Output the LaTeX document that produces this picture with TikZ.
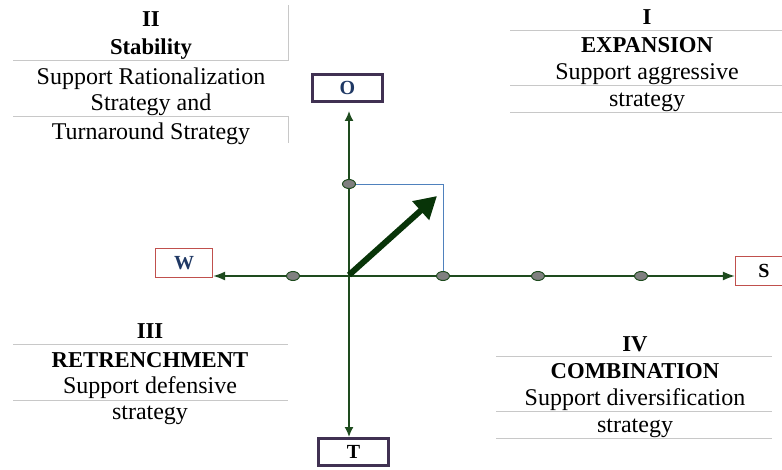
\documentclass[tikz,border=0pt]{standalone}
\usepackage{fontspec}
\setmainfont{Liberation Serif}
\usetikzlibrary{shapes.geometric, arrows.meta, positioning, calc}
\definecolor{axisgreen}{RGB}{30,75,30}
\definecolor{darkgreen}{RGB}{8,52,8}
\definecolor{boxpurple}{RGB}{64,49,82}
\definecolor{boxred}{RGB}{192,80,77}
\definecolor{navy}{RGB}{31,56,100}
\definecolor{rulegray}{RGB}{200,200,200}
\definecolor{lineblue}{RGB}{79,129,189}

\begin{document}
\begin{tikzpicture}[x=1pt, y=-1pt, every node/.style={font=\fontsize{24}{28}\selectfont},
  axisbox/.style={draw=boxpurple, line width=3pt, minimum width=70pt, minimum height=27pt, font=\fontsize{20}{22}\selectfont\bfseries},
  sidebox/.style={draw=boxred, line width=1.2pt, minimum width=57pt, minimum height=29pt, font=\fontsize{20}{22}\selectfont\bfseries},
  marker/.style={ellipse, draw=axisgreen, fill=gray, line width=1pt, minimum width=13pt, minimum height=9pt, inner sep=0pt},
  txt/.style={anchor=base},
  head/.style={anchor=base, font=\fontsize{22.7}{26}\selectfont\bfseries},
  sep/.style={rulegray, line width=0.8pt}]
\useasboundingbox (0,0) rectangle (782,470);

% axis boxes
\coordinate (c) at (349,275);
\node (O) [axisbox, text=navy] at (347.5,88) {O};
\node (T) [axisbox] at (353.5,452) {T};
\node (W) [sidebox, text=navy] at (184,263) {W};
\node (S) [sidebox] at (764,271) {S};

% axes
\draw[{Latex[length=10pt,width=9pt]}-{Latex[length=10pt,width=9pt]}, axisgreen, line width=1.6pt, shorten <=8pt] (c |- O.south) -- (c |- T.north);
\draw[{Latex[length=12pt,width=9pt]}-{Latex[length=12pt,width=9pt]}, axisgreen, line width=1.6pt] (W.east |- 0,276) -- (S.west |- 0,276);

% markers
\node (mO) [marker] at (349,184) {};
\foreach \x/\n in {293/m1, 443/m2, 538/m3, 641/m4}
  \node (\n) [marker] at (\x,276) {};
\draw[lineblue, line width=0.8pt] (mO.east) -| (m2.north);

% position vector
\coordinate (tip) at (437,196);
\draw[-{Triangle[length=22pt,width=24pt]}, darkgreen, line width=6pt] (c) -- (tip);

% quadrant II
\draw[sep] (13,60) -- (288,60) -- (288,5);
\draw[sep] (13,116) -- (288,116) -- (288,143);
\node (q2a) [head] at (151,27) {II};
\node (q2b) [head] at (151,55) {Stability};
\node (q2c) [txt] at (151,85) {Support Rationalization};
\node (q2d) [txt] at (151,111) {Strategy and};
\node (q2e) [txt] at (151,140) {Turnaround Strategy};

% quadrant I
\draw[sep] (510,30) -- (782,30);
\draw[sep] (510,85) -- (782,85);
\draw[sep] (510,112) -- (782,112);
\node (q1a) [head] at (647,25) {I};
\node (q1b) [head] at (647,53) {EXPANSION};
\node (q1c) [txt] at (647,80) {Support aggressive};
\node (q1d) [txt] at (647,107) {strategy};

% quadrant III
\draw[sep] (13,344) -- (288,344);
\draw[sep] (13,400) -- (288,400);
\node (q3a) [head] at (150,338) {III};
\node (q3b) [head] at (150,367) {RETRENCHMENT};
\node (q3c) [txt] at (150,393) {Support defensive};
\node (q3d) [txt] at (150,419) {strategy};

% quadrant IV
\draw[sep] (496,356) -- (772,356);
\draw[sep] (496,411) -- (772,411);
\draw[sep] (496,438) -- (772,438);
\node (q4a) [head] at (635,352) {IV};
\node (q4b) [head] at (635,378) {COMBINATION};
\node (q4c) [txt] at (635,405) {Support diversification};
\node (q4d) [txt] at (635,432) {strategy};
\end{tikzpicture}
\end{document}
